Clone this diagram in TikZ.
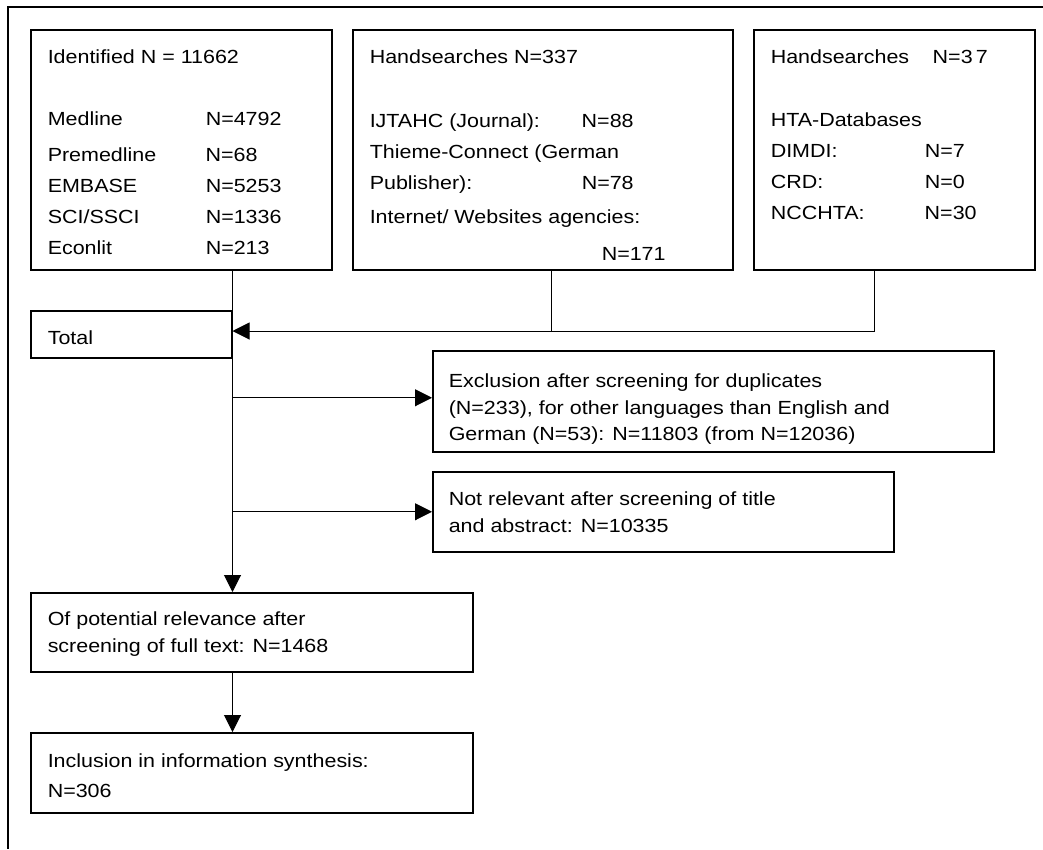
\documentclass[tikz,border=0pt]{standalone}
\usepackage{fontspec}
\setmainfont{Liberation Sans}[FakeStretch=1.13]
\usetikzlibrary{arrows.meta}
\newcommand{\boxtext}[4][34pt]{\parbox[t][#2][t]{#3}{\raggedright\rule{0pt}{#1}#4}}
\tikzset{
	flowbox/.style = {draw=black, line width=1.5pt, anchor=north west, inner xsep=17pt, inner ysep=0pt, font=\fontsize{19}{31}\selectfont},
	sidebox/.style = {flowbox, inner xsep=16pt, font=\fontsize{19}{26.5}\selectfont},
	link/.style = {draw=black, line width=1pt},
	feed/.style = {link, -{Triangle[length=17pt,width=17pt]}}
}
\begin{document}
\begin{tikzpicture}[x=1pt, y=-1pt]
\useasboundingbox (0,0) rectangle (1043,849);
\draw[line width=2.5pt] (1043,7) -- (8,7) -- (8,849);

\node[flowbox] (ident) at (30,29) {\boxtext{240pt}{267pt}{Identified N = 11662\\[31pt]
	\makebox[158pt][l]{Medline}N=4792\\[5pt]
	\makebox[158pt][l]{Premedline}N=68\\
	\makebox[158pt][l]{EMBASE}N=5253\\
	\makebox[158pt][l]{SCI/SSCI}N=1336\\
	\makebox[158pt][l]{Econlit}N=213}};
\node[flowbox] (hand) at (352,29) {\boxtext{240pt}{346pt}{Handsearches N=337\\[33pt]
	\makebox[212pt][l]{IJTAHC (Journal):}N=88\\
	Thieme-Connect (German\\
	\makebox[212pt][l]{Publisher):}N=78\\[3pt]
	Internet/ Websites agencies:\\[6pt]
	\hspace*{232pt}N=171}};
\node[flowbox] (hta) at (753,29) {\boxtext{240pt}{247pt}{\makebox[162pt][l]{Handsearches}N=3\,7\\[32pt]
	HTA-Databases\\
	\makebox[154pt][l]{DIMDI:}N=7\\
	\makebox[154pt][l]{CRD:}N=0\\
	\makebox[154pt][l]{NCCHTA:}N=30}};
\node[flowbox] (total) at (30,310) {\boxtext{47pt}{167pt}{Total}};
\node[sidebox] (excl) at (432,350) {\boxtext[37pt]{101pt}{529pt}{Exclusion after screening for duplicates\\
	(N=233), for other languages than English and\\
	German (N=53): N=11803 (from N=12036)}};
\node[sidebox] (irrel) at (432,471) {\boxtext{80pt}{429pt}{Not relevant after screening of title\\
	and abstract: N=10335}};
\node[flowbox] (pot) at (30,592) {\boxtext[33pt]{79pt}{408pt}{Of potential relevance after\\[-4pt]
	screening of full text: N=1468}};
\node[flowbox] (incl) at (30,732) {\boxtext[35pt]{80pt}{408pt}{Inclusion in information synthesis:\\[-1pt]
	N=306}};

\coordinate (drop) at (551,331);
\coordinate (merge) at (874,331);
\coordinate (exclin) at ([yshift=3.5pt]excl.west);

\draw[link] (ident.south -| total.north east) -- (total.north east);
\draw[link] (hand.south -| drop) -- (drop);
\draw[feed] (hta.south -| merge) -- (merge) -- (total.east |- merge);
\draw[feed] (total.south east) -- (total.south east |- pot.north);
\draw[feed] (exclin -| total.south east) -- (exclin);
\draw[feed] (irrel.west -| total.south east) -- (irrel.west);
\draw[feed] (pot.south -| total.south east) -- (incl.north -| total.south east);
\end{tikzpicture}
\end{document}
